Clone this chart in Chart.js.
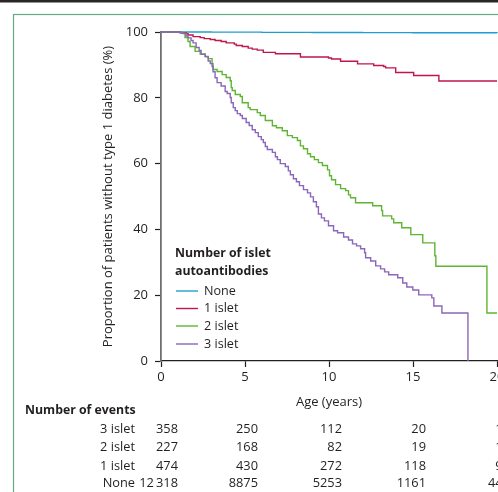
<!DOCTYPE html>
<html><head><meta charset="utf-8">
<script src="https://cdn.jsdelivr.net/npm/chart.js@4.4.1/dist/chart.umd.min.js"></script>
<style>
html,body{margin:0;padding:0;background:#fff;overflow:hidden;width:498px;height:492px}
#wrap{position:absolute;left:0;top:0;width:560px;height:492px}
</style>
</head><body><div id="wrap"><canvas id="c" width="560" height="492"></canvas></div>
<script>
// ---- data ----
const groupNames = ['None', '1 islet', '2 islet', '3 islet'];

const noneT = [0, 3, 6, 9, 12, 15, 20];
const noneS = [100, 99.95, 99.9, 99.85, 99.8, 99.75, 99.7];

const oneT = [0, 1.19, 1.49, 1.61, 1.91, 2.33, 2.57, 2.93, 3.22, 3.58, 3.88, 4.36, 4.48, 4.84, 5.19, 5.43, 5.73, 6.09, 6.81, 8.30, 9.97, 10.15, 10.69, 11.70, 12.66, 13.25, 13.37, 13.97, 15.04, 16.54, 20];
const oneS = [100, 99.8, 99.5, 99.1, 98.6, 98.3, 98.0, 97.7, 97.4, 97.1, 96.7, 96.3, 95.9, 95.6, 95.1, 94.8, 94.5, 93.8, 93.4, 92.4, 92.1, 91.8, 91.1, 90.3, 89.8, 89.5, 89.1, 87.7, 86.8, 85.1, 85.1];

const twoT = [0, 1.25, 1.43, 1.61, 1.73, 2.03, 2.33, 2.63, 2.81, 3.04, 3.10, 3.34, 3.64, 3.88, 4.12, 4.18, 4.24, 4.42, 4.72, 4.84, 5.19, 5.31, 5.73, 5.91, 6.21, 6.63, 6.87, 7.22, 7.52, 7.82, 8.12, 8.30, 8.48, 8.72, 8.90, 9.13, 9.37, 9.61, 9.91, 10.03, 10.15, 10.39, 10.69, 10.99, 11.16, 11.28, 11.58, 12.60, 13.13, 13.19, 13.73, 13.85, 14.33, 14.87, 15.58, 16.30, 16.36, 19.40, 20];
const twoS = [100, 99.6, 98.3, 97.1, 95.6, 94.1, 93.3, 92.5, 91.9, 90.4, 88.6, 88.0, 87.05, 86.15, 85.2, 83.1, 82.2, 81.0, 80.4, 78.5, 77.0, 76.4, 75.5, 74.6, 73.1, 71.5, 70.9, 70.0, 68.5, 67.9, 67.0, 65.4, 64.5, 63.0, 62.1, 61.2, 60.3, 59.4, 58.1, 56.3, 55.1, 53.6, 52.4, 51.8, 50.5, 49.6, 48.1, 47.2, 45.7, 44.1, 43.2, 42.0, 40.5, 38.4, 35.9, 32.0, 28.8, 14.6, 14.6];

const threeT = [0, 1.13, 1.31, 1.49, 1.61, 1.79, 1.91, 2.09, 2.27, 2.39, 2.63, 2.81, 2.93, 3.04, 3.10, 3.22, 3.34, 3.58, 3.82, 3.94, 4.12, 4.18, 4.30, 4.42, 4.54, 4.72, 4.84, 5.07, 5.25, 5.43, 5.61, 5.79, 5.97, 6.09, 6.21, 6.33, 6.63, 6.81, 6.93, 7.10, 7.40, 7.58, 7.70, 7.88, 8.06, 8.24, 8.48, 8.72, 8.90, 9.07, 9.25, 9.37, 9.55, 9.73, 9.97, 10.27, 10.51, 10.87, 11.16, 11.40, 11.64, 11.88, 12.12, 12.18, 12.48, 12.78, 13.07, 13.31, 13.55, 14.09, 14.39, 14.63, 14.99, 15.34, 16.12, 16.24, 16.72, 18.27];
const threeS = [100, 99.7, 99.5, 98.8, 98.2, 97.4, 96.7, 95.3, 94.4, 93.2, 92.6, 91.2, 90.4, 89.5, 87.9, 86.1, 84.6, 83.6, 81.9, 81.3, 80.1, 78.5, 77.0, 76.1, 75.2, 74.6, 73.7, 72.5, 71.6, 70.3, 69.4, 68.2, 67.3, 66.4, 65.2, 64.3, 63.4, 62.1, 61.2, 60.0, 59.1, 57.8, 56.6, 55.4, 54.5, 53.3, 52.1, 51.1, 49.9, 48.4, 46.9, 44.7, 43.5, 42.6, 41.1, 39.6, 39.0, 37.7, 36.8, 35.6, 35.0, 34.1, 32.9, 31.4, 30.4, 28.9, 28.0, 27.1, 26.2, 25.3, 23.7, 22.5, 21.6, 20.1, 19.2, 16.7, 14.6, 0];

const xTicks = [0, 5, 10, 15, 20];
const yTicks = [0, 20, 40, 60, 80, 100];

const tableRows = ['3 islet', '2 islet', '1 islet', 'None'];
const events3 = ['358', '250', '112', '20', '12'];
const events2 = ['227', '168', '82', '19', '11'];
const events1 = ['474', '430', '272', '118', '96'];
const eventsNone = ['12\u2009318', '8875', '5253', '1161', '443'];

// ---- styles ----
const FONT = '"Open Sans", "Noto Sans", sans-serif';
const TXT = '#231f20';
const colors = ['#1f9fcf', '#c0164a', '#5db531', '#8b66bb'];

const pts = (t, s) => t.map((x, i) => ({x: x, y: s[i]}));
const series = [pts(noneT, noneS), pts(oneT, oneS), pts(twoT, twoS), pts(threeT, threeS)];

const framePlugin = {
  id: 'frame',
  beforeDraw(chart) {
    const ctx = chart.ctx;
    ctx.save();
    ctx.fillStyle = '#fff';
    ctx.fillRect(0, 0, chart.width, chart.height);
    ctx.fillStyle = '#2a2627';
    ctx.fillRect(0, 0, chart.width, 2.5);
    ctx.strokeStyle = '#66a985';
    ctx.lineWidth = 1.2;
    ctx.strokeRect(13.5, 14.5, chart.width + 20, chart.height + 20);
    ctx.restore();
  }
};

const extrasPlugin = {
  id: 'extras',
  afterDraw(chart) {
    const ctx = chart.ctx;
    const xs = chart.scales.x;
    ctx.save();
    ctx.fillStyle = TXT;
    ctx.textBaseline = 'middle';
    // legend
    ctx.font = 'bold 12.3px ' + FONT;
    ctx.textAlign = 'left';
    ctx.fillText('Number of islet', 175, 253);
    ctx.fillText('autoantibodies', 175, 271);
    ctx.font = '12.6px ' + FONT;
    const ly = [291, 308.5, 326, 344];
    groupNames.forEach((g, i) => {
      ctx.strokeStyle = colors[i];
      ctx.lineWidth = 1.4;
      ctx.beginPath();
      ctx.moveTo(176, ly[i]);
      ctx.lineTo(198, ly[i]);
      ctx.stroke();
      ctx.fillStyle = TXT;
      ctx.fillText(g, 204, ly[i]);
    });
    // number of events table
    ctx.font = 'bold 12.3px ' + FONT;
    ctx.fillText('Number of events', 25, 410);
    ctx.font = '12.8px ' + FONT;
    const rows = [events3, events2, events1, eventsNone];
    const ry = [429, 447, 466, 483];
    rows.forEach((vals, r) => {
      ctx.textAlign = 'right';
      ctx.fillText(tableRows[r], 135, ry[r]);
      vals.forEach((v, c) => {
        const px = xs.getPixelForValue(xTicks[c]) + (c === 0 ? 17 : 13);
        ctx.fillText(v, px, ry[r]);
      });
    });
    ctx.restore();
  }
};

new Chart(document.getElementById('c'), {
  type: 'line',
  data: {
    datasets: series.map((d, i) => ({
      label: groupNames[i],
      data: d,
      borderColor: colors[i],
      backgroundColor: colors[i],
      borderWidth: 1.4,
      stepped: true,
      pointRadius: 0,
      fill: false,
      clip: 6
    })).reverse()
  },
  options: {
    responsive: false,
    animation: false,
    devicePixelRatio: 1,
    layout: {padding: {left: 100, top: 32, right: 63, bottom: 81}},
    plugins: {legend: {display: false}, tooltip: {enabled: false}},
    scales: {
      x: {
        type: 'linear', min: 0, max: 20,
        afterBuildTicks(s) { s.ticks = xTicks.map(v => ({value: v})); },
        ticks: {color: TXT, font: {family: FONT, size: 13}, padding: 2},
        grid: {drawOnChartArea: false, drawTicks: true, tickLength: 6, color: TXT, tickWidth: 1.2},
        border: {color: TXT, width: 1.3},
        title: {display: true, text: 'Age (years)', color: TXT, font: {family: FONT, size: 13}, padding: {top: 4, bottom: 1}},
        afterFit(s) { s.height = 50; }
      },
      y: {
        min: 0, max: 100,
        afterBuildTicks(s) { s.ticks = yTicks.map(v => ({value: v})); },
        ticks: {color: TXT, font: {family: FONT, size: 13}, padding: 7},
        grid: {drawOnChartArea: false, drawTicks: true, tickLength: 6, color: TXT, tickWidth: 1.2},
        border: {color: '#707070', width: 1.8},
        title: {display: true, text: 'Proportion of patients without type 1 diabetes (%)', color: TXT, font: {family: FONT, size: 13}, padding: {top: 0, bottom: 0}},
        afterFit(s) { s.width = 61; }
      }
    }
  },
  plugins: [framePlugin, extrasPlugin]
});
</script>
</body></html>
